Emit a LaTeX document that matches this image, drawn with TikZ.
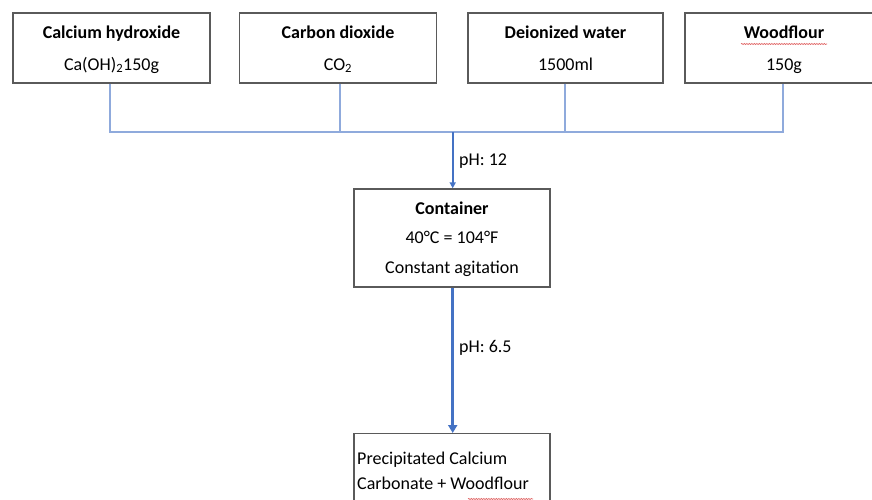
\documentclass[tikz,border=0pt]{standalone}
\usepackage{fontspec}
\setmainfont{Carlito}
\usetikzlibrary{arrows.meta,decorations.pathmorphing}
\definecolor{boxline}{HTML}{5A5A5A}
\definecolor{lightconn}{HTML}{8FAADC}
\definecolor{darkconn}{HTML}{4472C4}
\definecolor{spell}{HTML}{E06060}
\tikzset{
  inbox/.style={draw=boxline, line width=1.4pt, fill=white, minimum width=197pt, minimum height=70pt, inner sep=0pt, align=center, font=\fontsize{18}{31.5}\selectfont},
  midbox/.style={draw=boxline, line width=1.4pt, fill=white, minimum width=196pt, minimum height=98pt, inner sep=0pt, align=center, font=\fontsize{18}{29.5}\selectfont},
  outbox/.style={draw=boxline, line width=1.4pt, fill=white, minimum width=196pt, minimum height=100pt, inner sep=0pt},
  feed/.style={draw=lightconn, line width=1.3pt},
  flow/.style={draw=darkconn, line width=1.8pt, -{Triangle[length=6pt,width=6pt]}},
  flowthick/.style={draw=darkconn, line width=3pt, -{Triangle[length=8pt,width=9pt]}},
  lbl/.style={anchor=west, inner sep=0pt, font=\fontsize{18}{20}\selectfont},
  squiggle/.style={draw=spell, line width=0.6pt, decorate, decoration={snake, amplitude=0.6pt, segment length=2.5pt}}
}
\begin{document}
\begin{tikzpicture}[x=1pt,y=-1pt]
\clip (0,0) rectangle (872,500);
\fill[white] (0,0) rectangle (872,500);
% input boxes
\node[inbox] (ca) at (111.5,48) {\strut\textbf{Calcium hydroxide}\\\strut Ca(OH)\textsubscript{2}150g};
\node[inbox] (co) at (338,48) {\strut\textbf{Carbon dioxide}\\\strut CO\textsubscript{2}};
\node[inbox, minimum width=195pt] (dw) at (565.5,48) {\strut\textbf{Deionized water}\\\strut 1500ml};
\node[inbox, minimum width=198pt] (wf) at (784,48) {\strut\textbf{Woodflour}\\\strut 150g};
% container and product
\node[midbox] (ct) at (452,238) {\strut\textbf{Container}\\\strut 40°C = 104°F\\\strut Constant agitation};
\node[outbox, anchor=north] (pr) at (452,433) {};
\node[anchor=north west, inner sep=0pt, align=left, font=\fontsize{18}{25}\selectfont] (prt) at (357,452) {Precipitated Calcium\\Carbonate + Woodflour};
% junction
\coordinate (j1) at (110,132);
\coordinate (j2) at (340,132);
\coordinate (j3) at (565,132);
\coordinate (j4) at (783,132);
\coordinate (jc) at (452.7,132);
\draw[feed] (ca.south -| j1) -- (j1) -- (j4) -- (wf.south -| j4);
\draw[feed] (co.south -| j2) -- (j2);
\draw[feed] (dw.south -| j3) -- (j3);
\draw[flow] (jc) -- (ct.north -| jc);
\draw[flowthick] (ct.south -| jc) -- (pr.north -| jc);
\node[lbl] (ph1) at (459,161) {pH: 12};
\node[lbl] (ph2) at (459,348) {pH: 6.5};
% spell-check underlines
\draw[squiggle] (741,44) -- (827,44);
\draw[squiggle] (468,499) -- (533,499);
\end{tikzpicture}
\end{document}
